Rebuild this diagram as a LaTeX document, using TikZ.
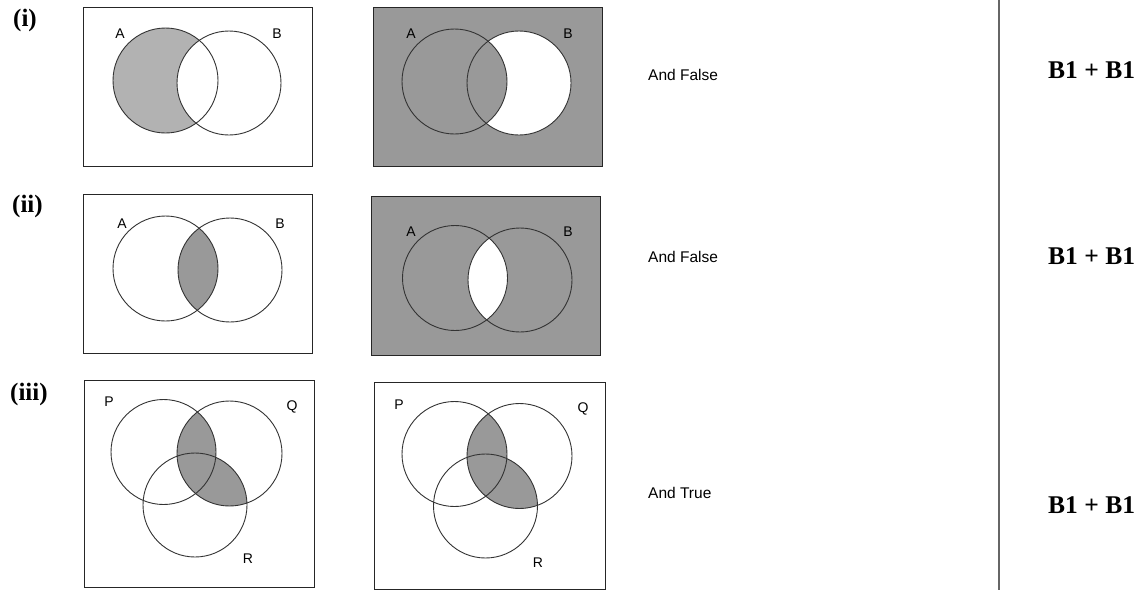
\documentclass[tikz,border=0pt]{standalone}
\usepackage{fontspec}
\setmainfont{Liberation Serif}
\newfontfamily\arialfont{Liberation Sans}
\tikzset{
  venn/.style={draw=black!80, line width=0.9pt},
  frame/.style={draw=black!85, line width=1pt},
  setlabel/.style={font=\arialfont\fontsize{14}{14}\selectfont, inner sep=0pt},
  rowlabel/.style={font=\bfseries\fontsize{25}{25}\selectfont, inner sep=0pt, anchor=base west},
  verdict/.style={font=\arialfont\fontsize{15.5}{15.5}\selectfont, inner sep=0pt, anchor=base west},
  scoremark/.style={font=\bfseries\fontsize{25.5}{25.5}\selectfont, inner sep=0pt, anchor=base west},
}
\colorlet{shadelight}{black!30}
\colorlet{shadedark}{black!40}
\begin{document}
\begin{tikzpicture}[x=1pt,y=-1pt]
\useasboundingbox (0,0) rectangle (1146,590);
% ---------- row (i) ----------
\node[rowlabel] (li) at (13,26) {(i)};
% left
\begin{scope}
  \fill[shadelight] (165.5,80.5) circle (52.5);
  \begin{scope}
    \clip (165.5,80.5) circle (52.5);
    \fill[white] (229,83) circle (52);
  \end{scope}
\end{scope}
\draw[frame] (83,7) rectangle (312,166);
\draw[venn] (165.5,80.5) circle (52.5);
\draw[venn] (229,83) circle (52);
\node[setlabel] (iA1) at (120,34) {A};
\node[setlabel] (iB1) at (277,34) {B};
% right
\fill[shadedark] (373,7) rectangle (602,166);
\fill[white] (519,83) circle (52);
\begin{scope}
  \clip (519,83) circle (52);
  \fill[shadedark] (454.5,81.5) circle (52.5);
\end{scope}
\draw[frame] (373,7) rectangle (602,166);
\draw[venn] (454.5,81.5) circle (52.5);
\draw[venn] (519,83) circle (52);
\node[setlabel] (iA2) at (411,34) {A};
\node[setlabel] (iB2) at (568,34) {B};
\node[verdict] (vi) at (648,80) {And False};
\node[scoremark] (mi) at (1048,78) {B1 + B1};
% ---------- row (ii) ----------
\node[rowlabel] (lii) at (12,212) {(ii)};
% left
\begin{scope}
  \clip (165.5,268.5) circle (52.5);
  \fill[shadedark] (230,270) circle (52);
\end{scope}
\draw[frame] (83,194) rectangle (312,353);
\draw[venn] (165.5,268.5) circle (52.5);
\draw[venn] (230,270) circle (52);
\node[setlabel] (iiA1) at (122,224) {A};
\node[setlabel] (iiB1) at (280,224) {B};
% right
\fill[shadedark] (371,196) rectangle (600,355);
\begin{scope}
  \clip (455,278) circle (52.5);
  \fill[white] (520,280) circle (52);
\end{scope}
\draw[frame] (371,196) rectangle (600,355);
\draw[venn] (455,278) circle (52.5);
\draw[venn] (520,280) circle (52);
\node[setlabel] (iiA2) at (411,232) {A};
\node[setlabel] (iiB2) at (568,232) {B};
\node[verdict] (vii) at (648,262) {And False};
\node[scoremark] (mii) at (1048,264) {B1 + B1};
% ---------- row (iii) ----------
\node[rowlabel] (liii) at (10,400) {(iii)};
% left
\begin{scope}
  \clip (229.5,453.5) circle (52.5);
  \fill[shadedark] (163.5,452) circle (52.5);
  \fill[shadedark] (195,505) circle (52);
\end{scope}
\draw[frame] (84,380) rectangle (314,587);
\draw[venn] (163.5,452) circle (52.5);
\draw[venn] (229.5,453.5) circle (52.5);
\draw[venn] (195,505) circle (52);
\node[setlabel] (iiiP1) at (109,402) {P};
\node[setlabel] (iiiQ1) at (292,407) {Q};
\node[setlabel] (iiiR1) at (248,559) {R};
% right
\begin{scope}
  \clip (519.5,456) circle (52.5);
  \fill[shadedark] (454.5,454) circle (52.5);
  \fill[shadedark] (485.5,506) circle (52);
\end{scope}
\draw[frame] (374,382) rectangle (605,589);
\draw[venn] (454.5,454) circle (52.5);
\draw[venn] (519.5,456) circle (52.5);
\draw[venn] (485.5,506) circle (52);
\node[setlabel] (iiiP2) at (399,405) {P};
\node[setlabel] (iiiQ2) at (583,409) {Q};
\node[setlabel] (iiiR2) at (538,563) {R};
\node[verdict] (viii) at (648,498) {And True};
\node[scoremark] (miii) at (1048,513) {B1 + B1};
% ---------- divider ----------
\coordinate (dtop) at (999,0);
\coordinate (dbot) at (999,590);
\draw[black!60, line width=2pt] (dtop) -- (dbot);
\end{tikzpicture}
\end{document}
